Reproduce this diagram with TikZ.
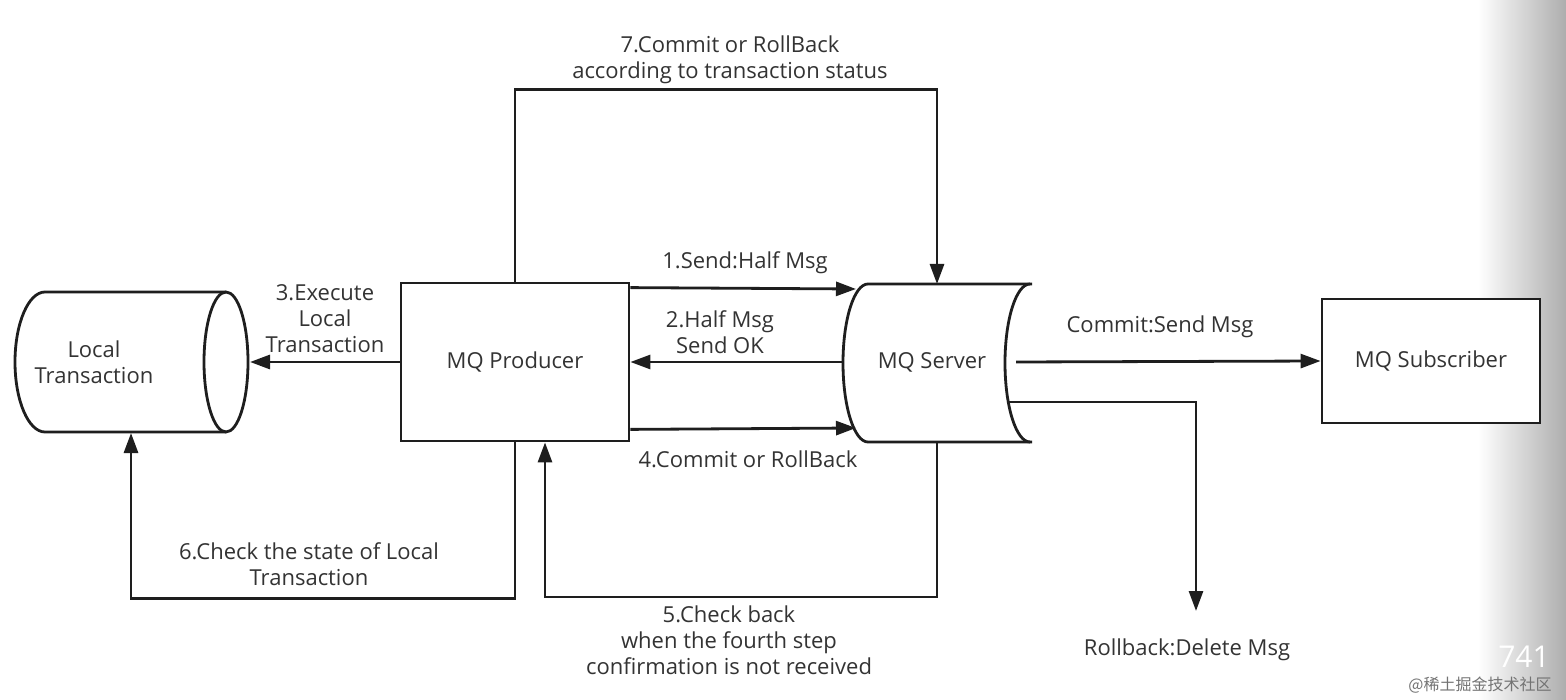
\documentclass[tikz,border=0pt]{standalone}
\usepackage{fontspec}
\setmainfont{Open Sans}
\newfontfamily\cjk{Noto Sans CJK SC}
\usetikzlibrary{arrows.meta,calc}
\definecolor{ink}{HTML}{1E1E1E}
\definecolor{txt}{HTML}{333333}
\begin{document}
\begin{tikzpicture}[x=1pt,y=-1pt,
  line/.style={draw=ink,line width=2.8pt},
  arr/.style={line,-{Triangle[length=20pt,width=14pt]}},
  boxnode/.style={draw=ink,line width=2.8pt,fill=white,font=\fontsize{22}{26}\selectfont,text=txt,inner sep=0pt},
  plain/.style={font=\fontsize{22}{26}\selectfont,text=txt,inner sep=0pt},
  lbl/.style={font=\fontsize{22}{26}\selectfont,text=txt,align=center,inner sep=0pt}]
\useasboundingbox (0,0) rectangle (1566,700);
\fill[white] (0,0) rectangle (1566,700);
\shade[left color=white,right color=black!32] (1478,0) rectangle (1566,700);

% Local Transaction cylinder
\draw[line,fill=white] (226,292) -- (45,292) arc[start angle=90,end angle=270,x radius=30pt,y radius=70pt] -- (226,432);
\draw[line] (226,362) ellipse[x radius=22pt,y radius=70pt];
\node[plain,align=center] (lt) at (94,362) {Local\\Transaction};
\coordinate (ltR) at (250,362);
\coordinate (ltB) at (131,433);

% MQ Server shape
\draw[line,fill=white] (1032,284) -- (868,284) arc[start angle=90,end angle=270,x radius=25pt,y radius=79pt] -- (1032,442);
\draw[line] (1030,442) arc[start angle=270,end angle=90,x radius=25pt,y radius=79pt];
\node[plain] (srv) at (932,362) {MQ Server};
\coordinate (srvIn1) at (856,289);
\coordinate (srvIn4) at (856,428);
\coordinate (srvOut2) at (843,362);
\coordinate (srvTop) at (937,284);
\coordinate (srvBot) at (937,442);
\coordinate (srvR1) at (1016,362);
\coordinate (srvR2) at (1008,402);
\coordinate (rbEnd) at (1196,611);

% Boxes
\node[boxnode,minimum width=228pt,minimum height=158pt] (prod) at (515,362) {MQ Producer};
\node[boxnode,minimum width=218pt,minimum height=124pt] (sub) at (1431,361) {MQ Subscriber};

% Connectors
\draw[arr] ($(prod.north east)+(0,6)$) -- (srvIn1);
\draw[arr] (srvOut2) -- (prod.east);
\draw[arr] ($(prod.south east)+(0,-13)$) -- (srvIn4);
\draw[arr] (prod.west) -- (ltR);
\draw[arr] (prod.north) -- ++(0,-192) -| (srvTop);
\draw[arr] (srvBot) -- ++(0,155) -| ($(prod.south)+(30,0)$);
\draw[arr] (prod.south) -- ++(0,156) -| (ltB);
\draw[arr] (srvR1) -- (sub.west);
\draw[arr] (srvR2) -| (rbEnd);

% Labels
\node[lbl] at (730,60) {7.Commit or RollBack\\according to transaction status};
\node[lbl] at (745,263) {1.Send:Half Msg};
\node[lbl] at (720,332) {2.Half Msg\\Send OK};
\node[lbl] at (325,319) {3.Execute\\Local\\Transaction};
\node[lbl] at (748,459) {4.Commit or RollBack};
\node[lbl] at (729,640) {5.Check back\\when the fourth step\\confirmation is not received};
\node[lbl] at (309,564) {6.Check the state of Local\\Transaction};
\node[lbl] at (1160,327) {Commit:Send Msg};
\node[lbl] at (1187,650) {Rollback:Delete Msg};

% Watermark
\node[text=white,font=\fontsize{30}{30}\selectfont,inner sep=0pt] at (1524,657) {741};
\node[text=black!55,font=\cjk\fontsize{16}{16}\selectfont,inner sep=0pt] at (1480,685) {@稀土掘金技术社区};
\end{tikzpicture}
\end{document}
